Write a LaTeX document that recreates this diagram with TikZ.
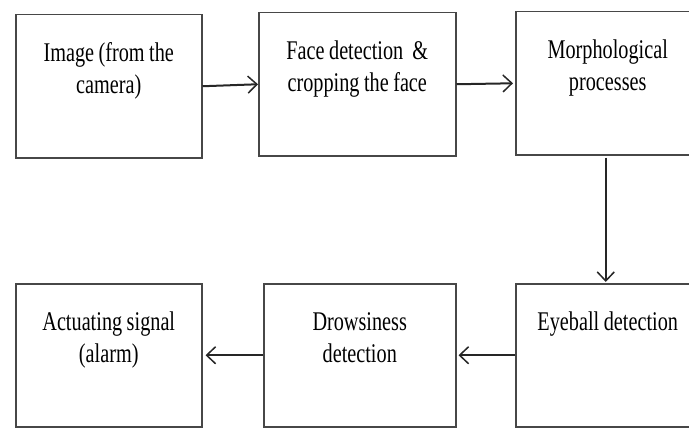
\documentclass[tikz,border=0pt]{standalone}
\usepackage{fontspec}
\newfontfamily\boxfont[FakeStretch=0.75]{Liberation Serif}
\newcommand\stagefont{\boxfont\fontsize{27}{32}\selectfont\spaceskip 4.5pt plus 1pt\relax}
\usepackage{tikz}
\usetikzlibrary{arrows.meta}

\begin{document}
\begin{tikzpicture}[
  x=1pt, y=-1pt,
  stage/.style={draw=black!72, line width=1.5pt, anchor=north west, align=flush center,
    inner sep=0pt, text height=47pt, text depth=96pt, font=\stagefont},
  arr/.style={-{Straight Barb[length=9pt, width=17pt, line width=1.5pt]}, line width=2pt, black!85},
]
\useasboundingbox (0,0) rectangle (689,428);
\clip (0,0) rectangle (689,428);
\node[stage, text width=186pt] (img) at (15,14) {Image (from the\\camera)};
\node[stage, text width=197pt] (face) at (258,12) {Face detection\ \ \&\\cropping the face};
\node[stage, text width=184pt] (morph) at (515,11) {Morphological\\processes};
\node[stage, text width=184pt] (eye) at (515,283) {Eyeball detection};
\node[stage, text width=192pt] (drow) at (263,283) {Drowsiness\\detection};
\node[stage, text width=186pt] (alarm) at (15,283) {Actuating signal\\(alarm)};
\draw[arr] (img.east) -- (face.west);
\draw[arr, shorten >=2pt] (face.east) -- (morph.west);
\draw[arr, shorten <=2pt, shorten >=1pt] ([xshift=-2pt]morph.south) -- ([xshift=-2pt]eye.north);
\draw[arr, shorten >=2pt] (eye.west) -- (drow.east);
\draw[arr, shorten >=3pt] (drow.west) -- (alarm.east);
\end{tikzpicture}
\end{document}
